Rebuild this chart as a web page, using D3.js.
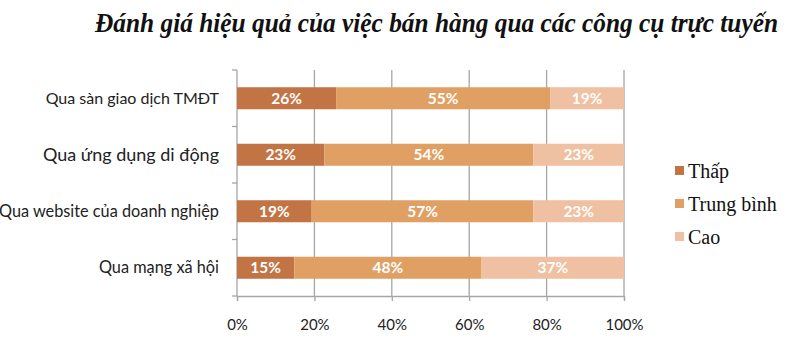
<!DOCTYPE html>
<html>
<head>
<meta charset="utf-8">
<script src="https://cdn.jsdelivr.net/npm/d3@7"></script>
<style>
  body { margin: 0; background: #fff; }
  svg { display: block; }
</style>
</head>
<body>
<svg id="chart"></svg>
<script>
//// DATA
const categories = [
    "Qua sàn giao dịch TMĐT",
    "Qua ứng dụng di động",
    "Qua website của doanh nghiệp",
    "Qua mạng xã hội"
];
const seriesNames = ["Thấp", "Trung bình", "Cao"];
// shares (labels are rounded)
const thap = [0.256, 0.226, 0.193, 0.148];
const trungBinh = [0.553, 0.540, 0.573, 0.484];
const cao = [0.191, 0.234, 0.234, 0.368];
const xTicks = [0, 0.2, 0.4, 0.6, 0.8, 1];

//// SETTINGS
const width = 800;
const height = 339;
const margin = { top: 70, right: 176, bottom: 43, left: 237 };
const colors = ["#c27444", "#e1a063", "#efc0a1"];
// the source image uses a slightly bigger font for the second label
const labelSizes = [16, 18, 16.3, 16.3];

const svg = d3.select("#chart").attr("width", width).attr("height", height);

// build rows for the stack
let rows = categories.map((c, i) => ({
    cat: c,
    "Thấp": thap[i],
    "Trung bình": trungBinh[i],
    "Cao": cao[i]
}));
const stacked = d3.stack().keys(seriesNames)(rows);

const x = d3.scaleLinear().domain([0, 1]).range([margin.left, width - margin.right]);
const y = d3.scaleBand().domain(categories).range([margin.top, height - margin.bottom]).paddingInner(0.61).paddingOuter(0.305);
const yOuter = d3.scaleBand().domain(categories).range([margin.top, height - margin.bottom]);
const color = d3.scaleOrdinal().domain(seriesNames).range(colors);

//// TITLE (condensed look: stretched a bit vertically)
svg.append("g")
    .attr("transform", "translate(95,32) scale(1,1.12)")
    .append("text")
    .attr("x", 0)
    .attr("y", 0)
    .attr("textLength", 683)
    .attr("lengthAdjust", "spacingAndGlyphs")
    .style("font-family", "'Liberation Serif', 'Times New Roman', serif")
    .style("font-weight", "bold")
    .style("font-style", "italic")
    .style("font-size", "24px")
    .style("fill", "#111")
    .text("Đánh giá hiệu quả của việc bán hàng qua các công cụ trực tuyến");

//// GRIDLINES
svg.append("g")
    .selectAll("line")
    .data(xTicks.slice(1))
    .enter()
    .append("line")
    .attr("x1", d => x(d)).attr("x2", d => x(d))
    .attr("y1", margin.top).attr("y2", height - margin.bottom)
    .style("stroke", "#a6a6a6")
    .style("stroke-width", "1.3px");

//// X AXIS
const xAxis = svg.append("g")
    .attr("transform", `translate(0,${height - margin.bottom})`)
    .call(d3.axisBottom(x).tickValues(xTicks).tickFormat(d3.format(".0%")).tickSize(5).tickPadding(18));
xAxis.select(".domain").style("stroke", "#a6a6a6").style("stroke-width", "1.3px");
xAxis.selectAll(".tick line").style("stroke", "#a6a6a6").style("stroke-width", "1.3px");
xAxis.selectAll("text")
    .style("font-family", "Lato, 'Open Sans', sans-serif")
    .style("font-size", "15px")
    .style("fill", "#222");

//// Y AXIS (line + category boundary ticks)
svg.append("line")
    .attr("x1", x(0)).attr("x2", x(0))
    .attr("y1", margin.top).attr("y2", height - margin.bottom)
    .style("stroke", "#a6a6a6")
    .style("stroke-width", "1.3px");

let bounds = categories.map(c => yOuter(c)).concat([height - margin.bottom]);
svg.append("g")
    .selectAll("line")
    .data(bounds)
    .enter()
    .append("line")
    .attr("x1", x(0) - 5).attr("x2", x(0))
    .attr("y1", d => d).attr("y2", d => d)
    .style("stroke", "#a6a6a6")
    .style("stroke-width", "1.3px");

svg.append("g")
    .selectAll("text")
    .data(categories)
    .enter()
    .append("text")
    .attr("x", x(0) - 18)
    .attr("y", d => y(d) + y.bandwidth() / 2)
    .attr("dy", "0.35em")
    .attr("text-anchor", "end")
    .style("font-family", "Lato, 'Open Sans', sans-serif")
    .style("font-size", (d, i) => labelSizes[i] + "px")
    .style("fill", "#222")
    .text(d => d);

//// BARS
const layers = svg.append("g")
    .selectAll("g")
    .data(stacked)
    .enter()
    .append("g")
    .style("fill", d => color(d.key));

layers.selectAll("rect")
    .data(d => d)
    .enter()
    .append("rect")
    .attr("x", d => x(d[0]))
    .attr("y", d => y(d.data.cat))
    .attr("width", d => x(d[1]) - x(d[0]))
    .attr("height", y.bandwidth());

layers.selectAll("text")
    .data(d => d)
    .enter()
    .append("text")
    .attr("x", d => (x(d[0]) + x(d[1])) / 2)
    .attr("y", d => y(d.data.cat) + y.bandwidth() / 2)
    .attr("dy", "0.36em")
    .attr("text-anchor", "middle")
    .style("font-family", "Lato, 'Open Sans', sans-serif")
    .style("font-weight", "bold")
    .style("font-size", "15.5px")
    .style("fill", "#fff")
    .text(d => d3.format(".0%")(d[1] - d[0]));

//// LEGEND
const legend = svg.append("g")
    .selectAll("g")
    .data(seriesNames)
    .enter()
    .append("g")
    .attr("transform", (d, i) => `translate(675,${171 + i * 33})`);

legend.append("rect")
    .attr("x", 0).attr("y", -5)
    .attr("width", 9).attr("height", 9)
    .style("fill", d => color(d));

legend.append("text")
    .attr("x", 13)
    .attr("y", 0)
    .attr("dy", "0.33em")
    .style("font-family", "'Liberation Serif', 'Times New Roman', serif")
    .style("font-size", "20px")
    .style("fill", "#111")
    .text(d => d);
</script>
</body>
</html>
